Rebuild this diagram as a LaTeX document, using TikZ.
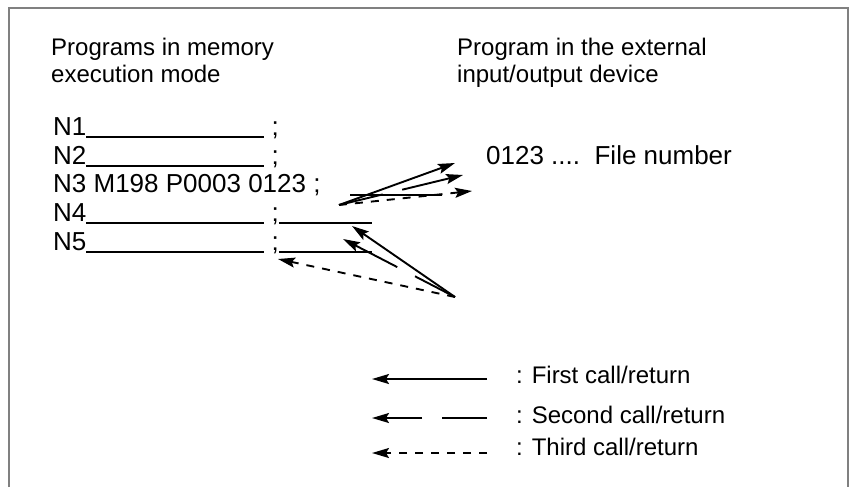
\documentclass[tikz,border=0pt]{standalone}
\usepackage{fontspec}
\setmainfont{Liberation Sans}
\usetikzlibrary{arrows.meta}
\begin{document}
\begin{tikzpicture}[x=1pt,y=-1pt,inner sep=0pt,
  head/.style={font=\fontsize{24}{27}\selectfont,align=left,anchor=base west},
  code/.style={font=\fontsize{26}{30}\selectfont,anchor=base west},
  callone/.style={-{Stealth[length=17pt,width=10pt,inset=3pt]},line width=1.9pt},
  calltwo/.style={callone,dash pattern=on 45pt off 20pt on 300pt off 0pt},
  callthree/.style={callone,dash pattern=on 8pt off 8pt}]
\useasboundingbox (0,0) rectangle (850,487);
\draw[black!50,line width=1.5pt] (9,487)--(9,8)--(848,8)--(848,487);
\node[head] (mem) at (51,82) {Programs in memory\\execution mode};
\node[head] (ext) at (457,82) {Program in the external\\input/output device};
\foreach \j/\y/\w in {1/135/0,2/164/0,4/221/93,5/250/93}{
 \node[code] (n\j) at (53,\y) {N\j\rule[-3pt]{178pt}{1.8pt} ;\rule[-3pt]{\w pt}{1.8pt}};
}
\node[code] (n3) at (53,192) {N3 M198 P0003 0123 ;};
\node[code] (file) at (486,164) {0123 ....\ \ File number};
\coordinate (u3a) at (350,195);
\coordinate (u3b) at (442,195);
\draw[line width=1.8pt] (u3a)--(u3b);
\coordinate (call) at (339,205);
\coordinate (ret) at (455,297);
\coordinate (f1) at (455,163);
\coordinate (f2) at (463,175);
\coordinate (f3) at (472,191);
\coordinate (r1) at (352,226);
\coordinate (r2) at (343,239);
\coordinate (r3) at (278,259);
\foreach \j/\s in {1/callone,2/calltwo,3/callthree}{
 \draw[\s] (call)--(f\j);
 \draw[\s] (ret)--(r\j);
}
\foreach \j/\s/\y/\b/\txt in {1/callone/379/383/First,2/calltwo/418/423/Second,3/callthree/453/455/Third}{
 \coordinate (la\j) at (487,\y);
 \coordinate (lb\j) at (372,\y);
 \draw[\s] (la\j)--(lb\j);
 \node[head] (l\j) at (516,\b) {: \txt\ call/return};
}
\end{tikzpicture}
\end{document}
